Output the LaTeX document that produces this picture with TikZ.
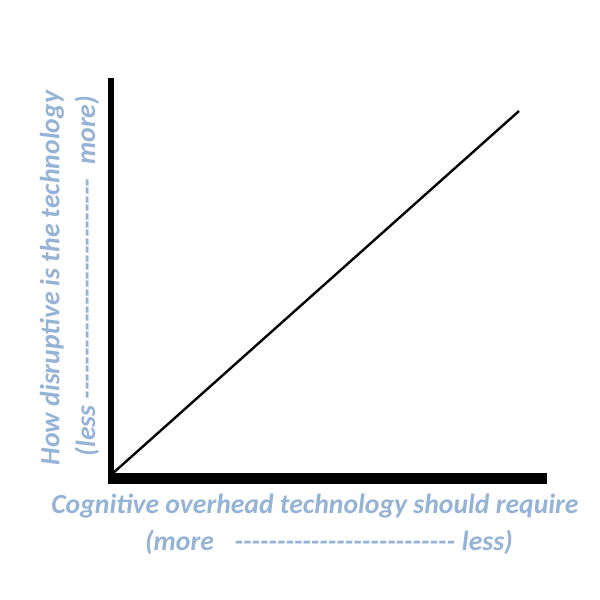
\documentclass[tikz,border=0pt]{standalone}
\usepackage{fontspec}
\setmainfont{Carlito}
\IfFontExistsTF{Carlito-BoldItalic.ttf}
  {\newfontfamily\lblfont{Carlito-BoldItalic.ttf}\newcommand\myemb{}}
  {\newfontfamily\lblfont{Carlito}[UprightFont=* Italic]\newcommand\myemb{\special{pdf:literal direct 2 Tr 0.9 w}}}
\definecolor{lbl}{HTML}{95B3D7}
\begin{document}
\begin{tikzpicture}[x=1pt,y=-1pt,
  lab/.style={text=lbl,font=\lblfont\fontsize{27.7}{31}\selectfont,inner sep=0pt,anchor=center}]
\useasboundingbox (0,0) rectangle (600,600);
\coordinate (o) at (111,476);
\coordinate (ytop) at (111,78);
\coordinate (xend) at (547,478);
\coordinate (d1) at (112,474);
\coordinate (d2) at (519,111);
\fill (108,78) rectangle (114,484);
\fill (108,473) rectangle (547,484);
\draw[line width=2.4pt] (d1) -- (d2);
\node[lab] (xl1) at (315,506) {\myemb Cognitive overhead technology should require};
\node[lab] (xl2) at (329,542) {\myemb(more\hspace{0.75em}{-}{-}{-}{-}{-}{-}{-}{-}{-}{-}{-}{-}{-}{-}{-}{-}{-}{-}{-}{-}{-}{-}{-}{-}{-}{-}\hspace{0.25em}less)};
\node[lab,rotate=90] (yl1) at (52,278) {\myemb How disruptive is the technology};
\node[lab,rotate=90] (yl2) at (87,276) {\myemb(less {-}{-}{-}{-}{-}{-}{-}{-}{-}{-}{-}{-}{-}{-}{-}{-}{-}{-}{-}{-}{-}{-}{-}{-}{-}{-}\hspace{0.5em}more)};
\end{tikzpicture}
\end{document}
